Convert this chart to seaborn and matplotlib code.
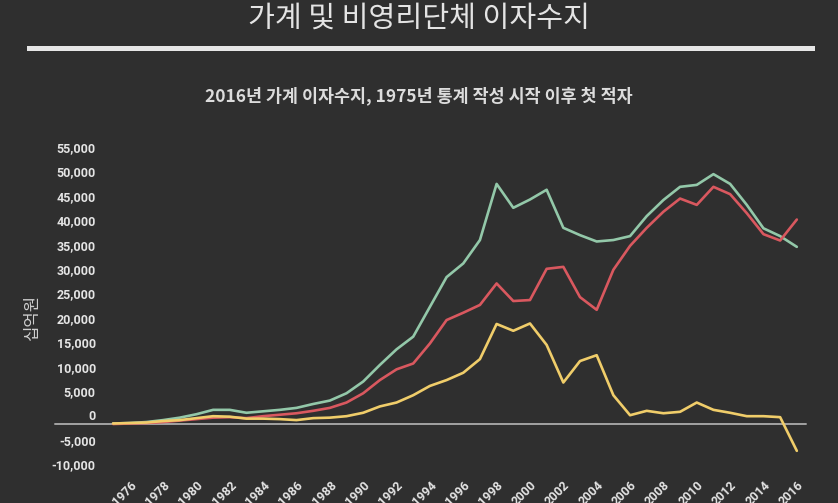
import matplotlib
matplotlib.use('AGG')

import matplotlib.pyplot as plt
import matplotlib.transforms as mtransforms
from matplotlib.patches import Rectangle
import seaborn as sns
import pandas as pd

# 단위: 십억원
years = list(range(1975, 2017))
income = [100, 200, 400, 800, 1300, 2000, 2900, 2900, 2300, 2600,
          2900, 3300, 4100, 4800, 6300, 8700, 12100, 15300, 17900, 24000,
          30100, 32900, 37700, 49200, 44300, 46000, 48000, 40200, 38700, 37400,
          37700, 38500, 42600, 45900, 48600, 49000, 51200, 49200, 44900, 40100,
          38500, 36300]
payment = [0, 100, 200, 400, 700, 1000, 1300, 1400, 1200, 1600,
           1900, 2200, 2700, 3300, 4400, 6300, 9000, 11200, 12400, 16500,
           21300, 22800, 24400, 28800, 25200, 25400, 31800, 32200, 26000, 23400,
           31600, 36500, 40200, 43500, 46200, 44900, 48600, 47100, 43200, 38900,
           37600, 41900]
net = [100, 200, 300, 600, 800, 1200, 1600, 1500, 1100, 1100,
       1000, 800, 1200, 1300, 1600, 2300, 3600, 4400, 5900, 7800,
       9000, 10500, 13300, 20500, 19100, 20600, 16200, 8500, 12900, 14100,
       5900, 1800, 2700, 2200, 2500, 4400, 2900, 2300, 1600, 1600,
       1400, -5500]
series_names = ['이자수입', '이자지급', '이자수지']
colors = ['#93c8a9', '#d9585f', '#f0cd6a']
y_ticks = list(range(-10000, 55001, 5000))
x_ticks = list(range(1976, 2017, 2))

BG = '#2f2f2f'
TXT = '#e4e4e4'

sns.set_style('dark')
plt.rcParams['font.family'] = ['Roboto', 'Noto Sans CJK KR', 'DejaVu Sans']

df = pd.concat([
    pd.DataFrame({'연도': years, '값': vals, '구분': name})
    for name, vals in zip(series_names, [income, payment, net])
])

fig = plt.figure(figsize=(8.38, 5.03), dpi=100, facecolor=BG)
ax = fig.add_axes([100 / 838, 1 - 472.8 / 503, 706 / 838, 317.2 / 503])
ax.set_facecolor(BG)

ax.axhline(0, xmin=-45 / 706, xmax=1, clip_on=False, color='#a3a3a3', lw=1.4, zorder=1)
sns.lineplot(data=df, x='연도', y='값', hue='구분', hue_order=series_names,
             palette=colors, linewidth=1.9, legend=False, ax=ax, zorder=3)

ax.set_xlim(1974.22, 2016.55)
ax.set_ylim(-10000, 55000)
for s in ax.spines.values():
    s.set_visible(False)
ax.grid(False)

ax.set_yticks(y_ticks)
ax.set_yticklabels([f'{v:,}' for v in y_ticks], fontsize=9, fontweight='bold', color=TXT)
ax.set_xticks(x_ticks)
ax.set_xticklabels([str(y) for y in x_ticks], fontsize=9, fontweight='bold', color=TXT,
                   rotation=45, ha='right', rotation_mode='anchor')
ax.tick_params(axis='y', length=0, pad=3)
ax.tick_params(axis='x', length=0, pad=4)

offset = mtransforms.ScaledTranslation(0, 0.085, fig.dpi_scale_trans)
for lab in ax.get_yticklabels():
    lab.set_transform(lab.get_transform() + offset)

ax.set_xlabel('')
ax.set_ylabel('십억원', family=['Noto Sans CJK KR'], fontsize=12, color='#cfcfcf')
ax.yaxis.set_label_coords(-59 / 706, 0.488)

fig.text(0.5, 1 - 19 / 503, '가계 및 비영리단체 이자수지', ha='center', va='center',
         fontsize=21, color=TXT, family=['Noto Sans CJK KR'])
fig.add_artist(Rectangle((27 / 838, 1 - 51 / 503), 788 / 838, 5 / 503,
                         transform=fig.transFigure, color='#e6e6e6', lw=0))
fig.text(0.5, 1 - 96 / 503, '2016년 가계 이자수지, 1975년 통계 작성 시작 이후 첫 적자',
         ha='center', va='center', fontsize=12.5, fontweight='bold', color='#dcdcdc',
         family=['Noto Sans CJK KR', 'DejaVu Sans'])

fig.savefig('out.png', dpi=100, facecolor=BG)
